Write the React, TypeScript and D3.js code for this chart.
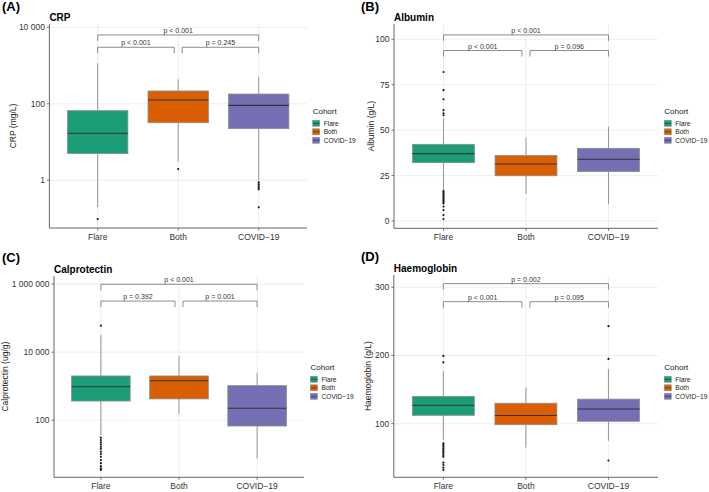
import * as d3 from "d3";

const cohorts = ["Flare", "Both", "COVID−19"];
const cohortColors = ["#1B9E77", "#D95F02", "#7570B3"];

// box stats per cohort: [lower whisker, Q1, median, Q3, upper whisker]
const crpBoxes = [
  [0.2, 5.0, 17, 66, 1150],
  [3.06, 32, 126, 216, 437],
  [1.0, 22.4, 91, 180, 510],
];
const crpOutliers = [[0.097], [1.97], [0.89, 0.79, 0.71, 0.64, 0.58, 0.197]];
const crpTicks = [1, 100, 10000];
const crpTickLabels = ["1", "100", "10 000"];
const crpBrackets = [6300, 3000];
const crpPvals = ["p < 0.001", "p < 0.001", "p = 0.245"];

const albBoxes = [
  [17, 32.1, 37.1, 42.2, 56.6],
  [14.9, 24.9, 31.4, 36.0, 45.9],
  [9.2, 27.2, 34.0, 40.0, 51.9],
];
const albOutliers = [
  [82, 72, 67, 61, 59.3, 58.2, 16.5, 15.8, 15, 14.3, 13.5, 12.8, 12, 11.2, 10.5, 9.7, 8, 6, 3.3, 1.1],
  [],
  [],
];
const albTicks = [0, 25, 50, 75, 100];
const albTickLabels = ["0", "25", "50", "75", "100"];
const albBrackets = [102.4, 93.8];
const albPvals = ["p < 0.001", "p < 0.001", "p = 0.096"];

const calBoxes = [
  [37, 368, 968, 2000, 31600],
  [150, 424, 1450, 2000, 7800],
  [7.6, 68, 226, 1040, 2500],
];
const calOutliers = [
  [59700, 30.9, 26.3, 22.4, 19.5, 16.6, 14.5, 12.0, 10.2, 8.5, 6.8, 5.5, 4.5, 3.9, 3.5],
  [],
  [],
];
const calTicks = [100, 10000, 1000000];
const calTickLabels = ["100", "10 000", "1 000 000"];
const calBrackets = [980000, 316000];
const calPvals = ["p < 0.001", "p = 0.392", "p = 0.001"];

const hbBoxes = [
  [76, 112.3, 127, 140, 177],
  [65, 98.5, 112, 130, 153],
  [75, 103.5, 121.5, 136, 180],
];
const hbOutliers = [
  [199.3, 190, 71.3, 68.8, 66.3, 63.8, 61.4, 59, 56.6, 54, 51.6, 42.8, 39.4, 35.5, 32.1],
  [],
  [243, 195, 46],
];
const hbTicks = [100, 200, 300];
const hbTickLabels = ["100", "200", "300"];
const hbBrackets = [305.3, 278.9];
const hbPvals = ["p = 0.002", "p < 0.001", "p = 0.095"];

const FONT = "'Liberation Sans', Arial, Helvetica, sans-serif";

type PanelProps = {
  tag: string;
  title: string;
  yTitle: string;
  log: boolean;
  domain: [number, number];
  boxes: number[][];
  outliers: number[][];
  ticks: number[];
  tickLabels: string[];
  brackets: number[];
  pvals: string[];
  box: { x0: number; x1: number; y0: number; y1: number };
  tagPos: [number, number];
  yTitleX: number;
  legendPos: [number, number];
};

function Panel(p: PanelProps) {
  const { x0, x1, y0, y1 } = p.box;
  const x = d3.scalePoint<string>().domain(cohorts).range([x0, x1]).padding(0.6);
  const y = p.log
    ? d3.scaleLog().domain(p.domain).range([y1, y0])
    : d3.scaleLinear().domain(p.domain).range([y1, y0]);
  const bw = x.step() * 0.75;
  const tip = 6;
  const gap = 4;
  const cx = cohorts.map((c) => x(c) as number);
  const bracketDefs = [
    { a: cx[0], b: cx[2], yv: p.brackets[0], label: p.pvals[0] },
    { a: cx[0], b: cx[1] - gap, yv: p.brackets[1], label: p.pvals[1] },
    { a: cx[1] + gap, b: cx[2], yv: p.brackets[1], label: p.pvals[2] },
  ];
  const [lx, ly] = p.legendPos;
  return (
    <g fontFamily={FONT}>
      <text x={p.tagPos[0]} y={p.tagPos[1]} fontSize={13} fontWeight="bold" fill="#000">
        {p.tag}
      </text>
      <text x={x0} y={y0 - 3.3} fontSize={10} fontWeight="bold" fill="#000">
        {p.title}
      </text>
      {/* grid */}
      {p.ticks.map((t) => (
        <line key={"h" + t} x1={x0} x2={x1} y1={y(t)} y2={y(t)} stroke="#e6e6e6" strokeWidth={0.7} />
      ))}
      {cx.map((c, i) => (
        <line key={"v" + i} x1={c} x2={c} y1={y0} y2={y1} stroke="#e6e6e6" strokeWidth={0.7} />
      ))}
      {/* boxes */}
      {p.boxes.map((b, i) => {
        const [lo, q1, med, q3, hi] = b;
        const c = cx[i];
        return (
          <g key={"b" + i}>
            <line x1={c} x2={c} y1={y(hi)} y2={y(q3)} stroke="#8c8c8c" strokeWidth={0.9} />
            <line x1={c} x2={c} y1={y(q1)} y2={y(lo)} stroke="#8c8c8c" strokeWidth={0.9} />
            <rect
              x={c - bw / 2}
              y={y(q3)}
              width={bw}
              height={y(q1) - y(q3)}
              fill={cohortColors[i]}
              stroke="#8c8c8c"
              strokeWidth={0.8}
            />
            <line x1={c - bw / 2} x2={c + bw / 2} y1={y(med)} y2={y(med)} stroke="#333" strokeWidth={1.1} />
            {p.outliers[i].map((o, j) => (
              <circle key={j} cx={c} cy={y(o)} r={1.1} fill="#1a1a1a" />
            ))}
          </g>
        );
      })}
      {/* significance brackets */}
      {bracketDefs.map((d, i) => {
        const by = y(d.yv);
        return (
          <g key={"s" + i}>
            <path
              d={`M${d.a},${by + tip}V${by}H${d.b}V${by + tip}`}
              fill="none"
              stroke="#808080"
              strokeWidth={0.9}
            />
            <text x={(d.a + d.b) / 2} y={by - 2} fontSize={7} textAnchor="middle" fill="#333">
              {d.label}
            </text>
          </g>
        );
      })}
      {/* axes */}
      <line x1={x0} x2={x0} y1={y0} y2={y1} stroke="#555" strokeWidth={0.9} />
      <line x1={x0} x2={x1} y1={y1} y2={y1} stroke="#555" strokeWidth={0.9} />
      {p.ticks.map((t, i) => (
        <g key={"t" + t}>
          <line x1={x0 - 2.5} x2={x0} y1={y(t)} y2={y(t)} stroke="#555" strokeWidth={0.8} />
          <text x={x0 - 4.5} y={y(t)} dy="0.35em" fontSize={8.5} textAnchor="end" fill="#333">
            {p.tickLabels[i]}
          </text>
        </g>
      ))}
      {cohorts.map((c, i) => (
        <g key={"xt" + i}>
          <line x1={cx[i]} x2={cx[i]} y1={y1} y2={y1 + 2.5} stroke="#555" strokeWidth={0.8} />
          <text x={cx[i]} y={y1 + 11.5} fontSize={8.5} textAnchor="middle" fill="#333">
            {c}
          </text>
        </g>
      ))}
      <text
        transform={`translate(${p.yTitleX},${(y0 + y1) / 2}) rotate(-90)`}
        dy="0.35em"
        fontSize={8.5}
        textAnchor="middle"
        fill="#222"
      >
        {p.yTitle}
      </text>
      {/* legend */}
      <text x={lx} y={ly} fontSize={8} fill="#222">
        Cohort
      </text>
      {cohorts.map((c, i) => {
        const ky = ly + 9 + i * 8.5;
        return (
          <g key={"l" + i}>
            <rect x={lx} y={ky - 3} width={7} height={6} fill={cohortColors[i]} stroke="#8c8c8c" strokeWidth={0.5} />
            <line x1={lx} x2={lx + 7} y1={ky} y2={ky} stroke="#333" strokeWidth={0.6} />
            <text x={lx + 11} y={ky} dy="0.35em" fontSize={6.6} fill="#222">
              {c}
            </text>
          </g>
        );
      })}
    </g>
  );
}

export default function App() {
  return (
    <svg
      width={709}
      height={492}
      style={{ position: "absolute", left: 0, top: 0, background: "#fff" }}
    >
      <Panel
        tag="(A)"
        title="CRP"
        yTitle="CRP (mg/L)"
        log
        domain={[Math.pow(10, -1.247), Math.pow(10, 4.086)]}
        boxes={crpBoxes}
        outliers={crpOutliers}
        ticks={crpTicks}
        tickLabels={crpTickLabels}
        brackets={crpBrackets}
        pvals={crpPvals}
        box={{ x0: 49.4, x1: 307, y0: 24, y1: 228 }}
        tagPos={[2, 11]}
        yTitleX={13.3}
        legendPos={[312.7, 114.3]}
      />
      <Panel
        tag="(B)"
        title="Albumin"
        yTitle="Albumin (g/L)"
        log={false}
        domain={[-4.0, 108.4]}
        boxes={albBoxes}
        outliers={albOutliers}
        ticks={albTicks}
        tickLabels={albTickLabels}
        brackets={albBrackets}
        pvals={albPvals}
        box={{ x0: 394, x1: 658, y0: 24, y1: 228.3 }}
        tagPos={[361, 11]}
        yTitleX={371.3}
        legendPos={[664.3, 114.3]}
      />
      <Panel
        tag="(C)"
        title="Calprotectin"
        yTitle="Calprotectin (ug/g)"
        log
        domain={[Math.pow(10, 0.327), Math.pow(10, 6.235)]}
        boxes={calBoxes}
        outliers={calOutliers}
        ticks={calTicks}
        tickLabels={calTickLabels}
        brackets={calBrackets}
        pvals={calPvals}
        box={{ x0: 54, x1: 304, y0: 276, y1: 477.3 }}
        tagPos={[2, 262.3]}
        yTitleX={5.5}
        legendPos={[310.5, 370.3]}
      />
      <Panel
        tag="(D)"
        title="Haemoglobin"
        yTitle="Haemoglobin (g/L)"
        log={false}
        domain={[21.4, 318]}
        boxes={hbBoxes}
        outliers={hbOutliers}
        ticks={hbTicks}
        tickLabels={hbTickLabels}
        brackets={hbBrackets}
        pvals={hbPvals}
        box={{ x0: 393.8, x1: 658, y0: 275, y1: 477.3 }}
        tagPos={[361, 260.7]}
        yTitleX={368.3}
        legendPos={[664.3, 370.3]}
      />
    </svg>
  );
}
